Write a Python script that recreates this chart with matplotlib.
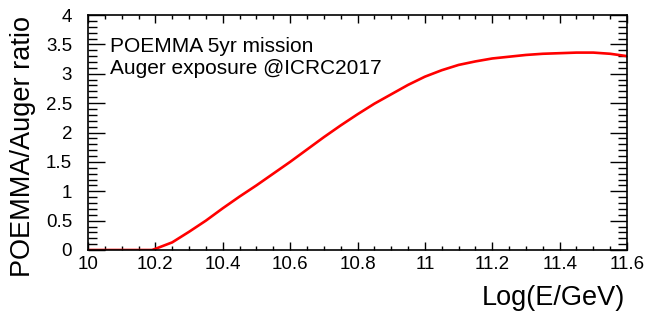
import matplotlib
matplotlib.use("Agg")
import matplotlib.pyplot as plt
from matplotlib.ticker import MultipleLocator, FuncFormatter

# Data
log_e = [10.0, 10.05, 10.1, 10.15, 10.19, 10.2, 10.25, 10.3, 10.35, 10.4, 10.45,
         10.5, 10.55, 10.6, 10.65, 10.7, 10.75, 10.8, 10.85, 10.9, 10.95, 11.0,
         11.05, 11.1, 11.15, 11.2, 11.25, 11.3, 11.35, 11.4, 11.45, 11.5, 11.55, 11.6]
ratio = [0.0, 0.0, 0.0, 0.0, 0.0, 0.02, 0.13, 0.31, 0.50, 0.71, 0.91,
         1.10, 1.30, 1.50, 1.71, 1.92, 2.12, 2.31, 2.49, 2.65, 2.81, 2.95,
         3.06, 3.15, 3.21, 3.26, 3.29, 3.32, 3.34, 3.35, 3.36, 3.36, 3.34, 3.30]
x_ticks = [10.0, 10.2, 10.4, 10.6, 10.8, 11.0, 11.2, 11.4, 11.6]
y_ticks = [0, 0.5, 1, 1.5, 2, 2.5, 3, 3.5, 4]
annotations = ["POEMMA 5yr mission", "Auger exposure @ICRC2017"]
xlabel = "Log(E/GeV)"
ylabel = "POEMMA/Auger ratio"

plt.rcParams['font.family'] = ['Liberation Sans', 'DejaVu Sans']

W, H = 662, 312
fig = plt.figure(figsize=(W / 100, H / 100), dpi=100)
ax = fig.add_axes([88 / W, (H - 250) / H, 539 / W, 235 / H])

ax.plot(log_e, ratio, color='#ff0000', lw=1.9, solid_capstyle='round')

ax.set_xlim(10, 11.6)
ax.set_ylim(0, 4)
ax.set_xticks(x_ticks)
ax.set_yticks(y_ticks)
ax.xaxis.set_minor_locator(MultipleLocator(0.05))
ax.yaxis.set_minor_locator(MultipleLocator(0.1))

def fmt(v, pos):
    s = f"{v:g}"
    return s
ax.xaxis.set_major_formatter(FuncFormatter(fmt))
ax.yaxis.set_major_formatter(FuncFormatter(fmt))

for sp in ax.spines.values():
    sp.set_linewidth(1.2)

ax.tick_params(axis='x', which='major', direction='in', length=5.8, width=1.0,
               top=True, labelsize=13.5, pad=4.5)
ax.tick_params(axis='x', which='minor', direction='in', length=3.0, width=1.0, top=True)
ax.tick_params(axis='y', which='major', direction='in', length=12.2, width=1.0,
               right=True, labelsize=13.5, pad=11.5)
ax.tick_params(axis='y', which='minor', direction='in', length=6.2, width=1.0, right=True)

fig.text(110 / W, 1 - 51.7 / H, annotations[0], fontsize=15, ha='left', va='baseline')
fig.text(110 / W, 1 - 74.3 / H, annotations[1], fontsize=15, ha='left', va='baseline')

fig.text(625 / W, 1 - 298 / H, xlabel, fontsize=19.5, ha='right', va='center')
fig.text(23 / W, 1 - 16 / H, ylabel, fontsize=19.5, rotation=90, ha='center', va='top')

fig.savefig("out.png", dpi=100)
